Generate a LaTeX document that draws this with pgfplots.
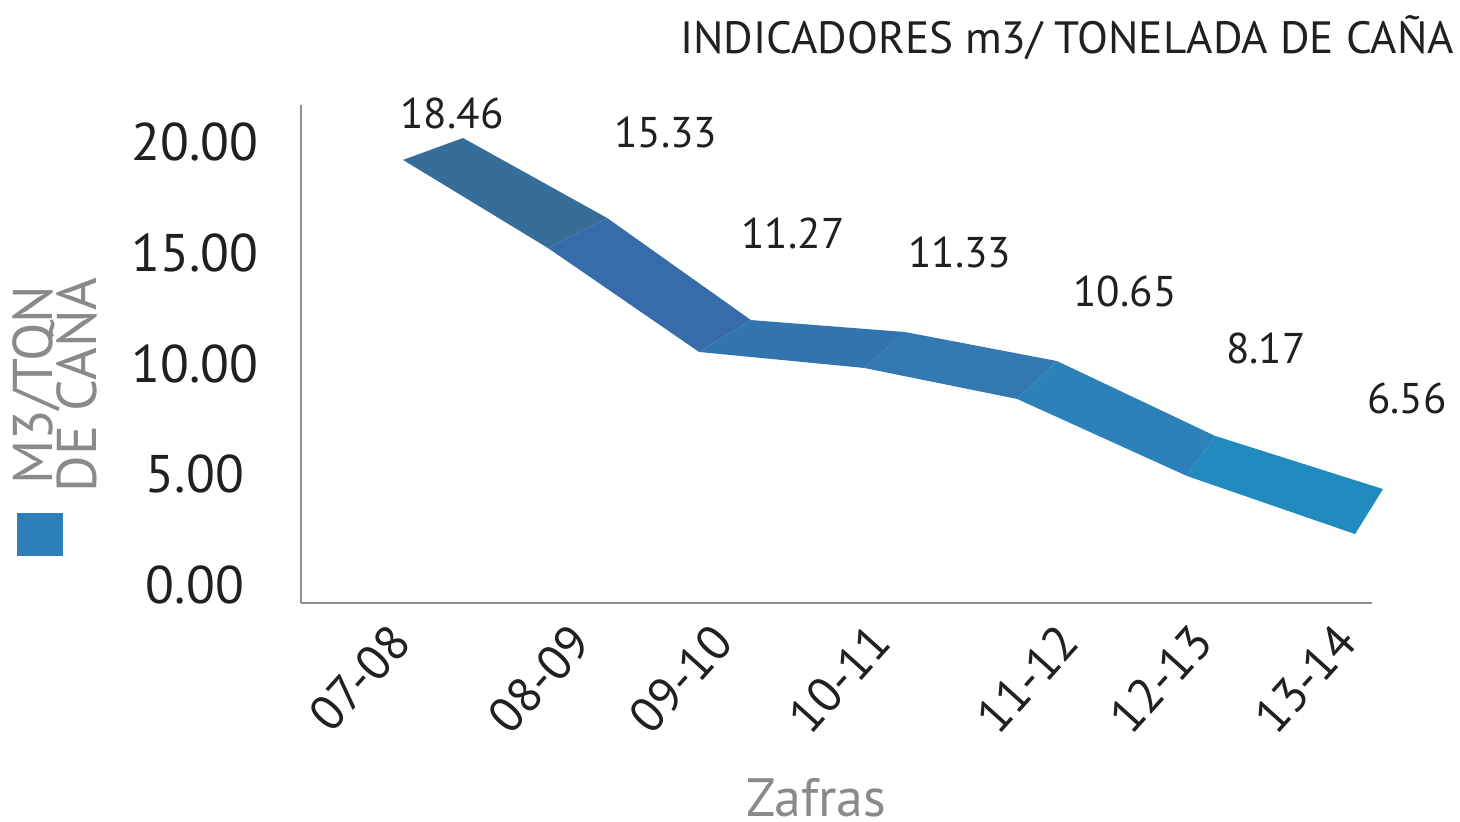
\documentclass[border=0pt]{standalone}
\usepackage{fontspec}
\setmainfont{PT Sans}
\usepackage{pgfplots}
\pgfplotsset{compat=1.18}
\definecolor{s1}{HTML}{376D99}
\definecolor{s2}{HTML}{366CAA}
\definecolor{s3}{HTML}{3274AE}
\definecolor{s4}{HTML}{3378B1}
\definecolor{s5}{HTML}{2C82B8}
\definecolor{s6}{HTML}{218BBF}
\definecolor{sq}{HTML}{2B80BA}
\definecolor{axgray}{HTML}{8E8E8E}
\definecolor{labgray}{HTML}{8A8A8A}
\definecolor{txt}{HTML}{231F20}
\begin{document}
\begin{tikzpicture}
\begin{axis}[
  at={(0,0)}, anchor=south west,
  width=535.5pt, height=249pt, scale only axis,
  xmin=-0.6428, xmax=6.107, ymin=-0.8126, ymax=21.67,
  axis x line=bottom, axis y line=left,
  axis line style={-, draw=axgray, line width=1.2pt},
  major tick length=0pt,
  ytick={0,5,10,15,20},
  /pgf/number format/fixed,
  /pgf/number format/fixed zerofill,
  /pgf/number format/precision=2,
  /pgf/number format/assume math mode=true,
  yticklabel style={font=\fontsize{26.5}{30}\selectfont, text=txt, anchor=center, xshift=-53pt},
  xtick={-0.16,0.98,1.87,2.87,4.055,4.895,5.806},
  xticklabels={07-08,08-09,09-10,10-11,11-12,12-13,13-14},
  xticklabel style={font=\fontsize{24.5}{28}\selectfont, rotate=48, anchor=north east, text=txt, yshift=-6pt},
  xlabel={Zafras},
  xlabel style={at={(axis description cs:0.481,-0.4297)}, anchor=base, inner sep=0pt, font=\fontsize{27}{30}\selectfont, text=labgray},
  ylabel={M3/TON\\[-6.5pt]DE CAÑA},
  ylabel style={at={(axis description cs:-0.2297,0.4378)}, anchor=center, align=center, font=\fontsize{28}{22}\selectfont, text=labgray},
  title={INDICADORES m3/ TONELADA DE CAÑA},
  title style={at={(axis description cs:1.0756,1.1024)}, anchor=base east, xshift=4pt, yshift=-6pt, font=\fontsize{22.6}{26}\selectfont, text=txt},
  clip=false,
]
\addplot[fill=s1, draw=none] coordinates {(0,19.19) (0.378,20.18) (1.286,16.57) (0.914,15.21)} -- cycle;
\addplot[fill=s2, draw=none] coordinates {(0.914,15.21) (1.286,16.57) (2.193,11.96) (1.866,10.52)} -- cycle;
\addplot[fill=s3, draw=none] coordinates {(1.866,10.52) (2.193,11.96) (3.164,11.42) (2.905,9.80)} -- cycle;
\addplot[fill=s4, draw=none] coordinates {(2.905,9.80) (3.164,11.42) (4.122,10.11) (3.870,8.40)} -- cycle;
\addplot[fill=s5, draw=none] coordinates {(3.870,8.40) (4.122,10.11) (5.118,6.73) (4.941,4.92)} -- cycle;
\addplot[fill=s6, draw=none] coordinates {(4.941,4.92) (5.118,6.73) (6.176,4.33) (6.000,2.30)} -- cycle;
\addplot[only marks, mark=none, nodes near coords, point meta=explicit symbolic,
  nodes near coords style={anchor=center, font=\fontsize{21.5}{24}\selectfont, text=txt}]
  coordinates {(0.309,21.31)[18.46] (1.657,20.41)[15.33] (2.458,15.89)[11.27] (3.510,15.03)[11.33] (4.550,13.27)[10.65] (5.439,10.70)[8.17] (6.328,8.44)[6.56]};
\end{axis}
\fill[sq] (-142pt,23.5pt) rectangle (-119pt,45pt);
\pgfresetboundingbox
\useasboundingbox (-150.5pt,-109.5pt) rectangle (579.5pt,301.5pt);
\end{tikzpicture}
\end{document}
